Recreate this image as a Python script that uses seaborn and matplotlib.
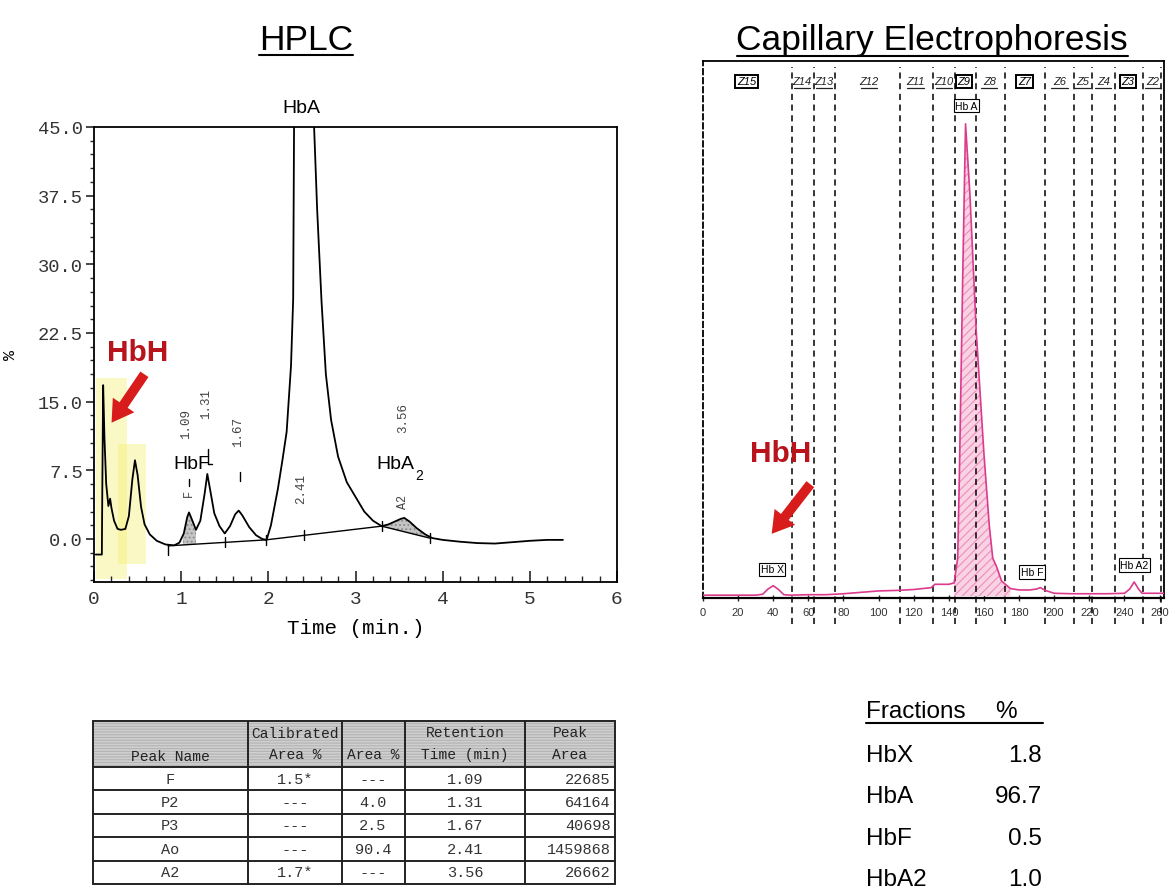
import numpy as np
import matplotlib
matplotlib.use("Agg")
import matplotlib.pyplot as plt
import seaborn as sns
from matplotlib.patches import Rectangle, FancyArrowPatch
from matplotlib.ticker import MultipleLocator, FixedLocator

# ---------------- HPLC chromatogram ----------------
hplc_time = [0.02, 0.09, 0.095, 0.105, 0.12, 0.14, 0.165, 0.185, 0.20, 0.23, 0.27, 0.31,
             0.36, 0.40, 0.44, 0.47, 0.50, 0.54, 0.58, 0.64, 0.72, 0.82, 0.92, 0.98,
             1.03, 1.07, 1.09, 1.12, 1.17, 1.22, 1.27, 1.30, 1.33, 1.38, 1.44, 1.50,
             1.56, 1.62, 1.66, 1.70, 1.78, 1.86, 1.93, 1.98, 2.03, 2.07, 2.11, 2.16,
             2.21, 2.26, 2.285, 2.295, 2.41, 2.525, 2.56, 2.61, 2.66, 2.72, 2.80, 2.90,
             3.00, 3.10, 3.20, 3.30, 3.38, 3.45, 3.52, 3.56, 3.62, 3.70, 3.80, 3.88,
             4.00, 4.20, 4.40, 4.60, 4.80, 5.00, 5.20, 5.38]
hplc_signal = [-1.7, -1.7, 5.0, 16.8, 11.0, 6.0, 3.6, 4.4, 3.4, 2.0, 1.1, 1.0,
               1.1, 2.5, 6.5, 8.6, 7.0, 3.5, 1.6, 0.5, -0.2, -0.6, -0.7, -0.4,
               0.6, 2.4, 2.9, 2.2, 1.0, 2.0, 5.0, 7.1, 5.5, 2.8, 1.4, 0.6,
               1.4, 2.7, 3.1, 2.6, 1.3, 0.4, 0.0, -0.1, 1.5, 3.5, 5.5, 8.5,
               11.7, 18.9, 26.2, 45.0, 72.0, 45.0, 36.0, 26.0, 18.0, 13.0, 9.0, 6.2,
               4.6, 3.0, 2.0, 1.4, 1.6, 1.9, 2.2, 2.3, 1.9, 1.2, 0.5, 0.1,
               -0.1, -0.3, -0.45, -0.5, -0.35, -0.2, -0.1, -0.1]

# integration baseline and peak start/end marks
base_time = [0.85, 1.97, 3.30, 3.85]
base_signal = [-0.75, -0.10, 1.40, 0.10]
mark_time = [0.85, 1.50, 1.97, 2.41, 3.30, 3.85]

# retention-time labels printed above the peaks
rt_text = ["1.09", "1.31", "1.67", "2.41", "3.56"]
rt_time = [1.06, 1.29, 1.655, 2.38, 3.55]
rt_level = [12.7, 14.9, 11.8, 5.6, 13.3]

# HPLC report table
peak_names = ["F", "P2", "P3", "Ao", "A2"]
calibrated_area = ["1.5*", "---", "---", "---", "1.7*"]
area_pct = ["---", "4.0", "2.5", "90.4", "---"]
retention_time = ["1.09", "1.31", "1.67", "2.41", "3.56"]
peak_area = ["22685", "64164", "40698", "1459868", "26662"]

# ---------------- Capillary electrophoresis ----------------
ce_pos = [0, 20, 30, 34, 37, 40, 43, 46, 50, 60, 70, 80, 90, 100, 110, 120, 130, 132,
          140, 143, 145, 146, 147, 148, 149.5, 152, 155.6, 160, 163, 165, 167, 170,
          175, 180, 186, 190, 192, 195, 200, 210, 220, 230, 240, 243, 245.5, 248, 250, 262.5]
ce_signal = [0.2, 0.2, 0.2, 0.4, 1.5, 2.2, 1.4, 0.3, 0.2, 0.3, 0.3, 0.5, 0.8, 1.1, 1.2, 1.4, 1.8, 2.5,
             2.5, 2.8, 8.0, 26.0, 48.0, 70.0, 100.0, 85.0, 56.0, 30.0, 15.0, 8.0, 6.4, 3.2,
             1.6, 1.3, 1.3, 1.5, 1.8, 1.2, 0.6, 0.5, 0.5, 0.5, 0.6, 1.5, 3.0, 1.5, 0.6, 0.6]

zone_bounds = [50.5, 63, 75, 112, 131, 143.3, 155.6, 172, 194.5, 211, 221.5, 234.5, 250.6, 261]
zone_names = ["Z15", "Z14", "Z13", "Z12", "Z11", "Z10", "Z9", "Z8", "Z7", "Z6", "Z5", "Z4", "Z3", "Z2"]
zone_pos = [24.7, 56.5, 69, 94.7, 121, 137, 148.5, 163, 183, 203, 216, 228, 242, 256]
zone_boxed = ["Z15", "Z9", "Z7", "Z3"]

hb_labels = ["Hb X", "Hb A", "Hb F", "Hb A2"]
hb_label_pos = [39.5, 150, 187.5, 245.6]
hb_label_level = [5.7, 103.8, 5.1, 6.6]

fractions = ["HbX", "HbA", "HbF", "HbA2"]
fraction_pct = [1.8, 96.7, 0.5, 1.0]

# ---------------- style ----------------
sns.set_style("white")
SANS = ["Liberation Sans", "DejaVu Sans"]
MONO = ["Liberation Mono", "DejaVu Sans Mono"]
plt.rcParams["font.family"] = SANS
plt.rcParams["text.color"] = "black"
plt.rcParams["hatch.linewidth"] = 0.8

W, H = 1173, 895
fig = plt.figure(figsize=(W / 100, H / 100), dpi=100, facecolor="white")


def box(left, top, right, bottom):
    return [left / W, 1 - bottom / H, (right - left) / W, (bottom - top) / H]


# ---------------- HPLC panel ----------------
ax1 = fig.add_axes(box(94, 128, 617, 583))
ax1.set_xlim(0, 6)
ax1.set_ylim(-4.7, 45)

# highlighter marks behind the early peaks
ax1.add_patch(Rectangle((0.02, -4.4), 0.36, 22.0, fc="#f4ef6e", ec="none", alpha=0.4, zorder=0))
ax1.add_patch(Rectangle((0.28, -2.7), 0.32, 13.1, fc="#f4ef6e", ec="none", alpha=0.4, zorder=0))

sns.lineplot(x=hplc_time, y=hplc_signal, ax=ax1, color="black", lw=1.3,
             sort=False, estimator=None, zorder=3)

t_arr = np.array(hplc_time)
s_arr = np.array(hplc_signal)
sns.lineplot(x=base_time, y=base_signal, ax=ax1, color="black", lw=1.0,
             sort=False, estimator=None, zorder=3)

# shaded integrated areas (F and A2)
for lo, hi in [(1.02, 1.17), (3.30, 3.85)]:
    tt = np.linspace(lo, hi, 60)
    top = np.interp(tt, t_arr, s_arr)
    bot = np.interp(tt, base_time, base_signal)
    ax1.fill_between(tt, bot, np.maximum(top, bot), facecolor="#c4c4c4",
                     edgecolor="#8a8a8a", hatch="....", lw=0, zorder=2)

# peak boundary marks
for tm in mark_time:
    b = np.interp(tm, base_time, base_signal)
    if tm == 0.85:
        b -= 0.5
    ax1.plot([tm, tm], [b - 0.55, b + 0.55], color="black", lw=1.0, zorder=3)
# apex marks
for tm, lo, hi in [(1.09, 5.8, 6.6), (1.31, 8.2, 9.8), (1.67, 6.3, 7.3)]:
    ax1.plot([tm, tm], [lo, hi], color="black", lw=1.0, zorder=3)
ax1.plot([1.31, 1.35], [8.2, 8.2], color="black", lw=1.0, zorder=3)

for txt, tm, lv in zip(rt_text, rt_time, rt_level):
    ax1.text(tm, lv, txt, rotation=90, ha="center", va="center", fontsize=9,
             family=MONO, color="#444444")
ax1.text(1.09, 5.1, "F", rotation=90, ha="center", va="center", fontsize=8.5,
         family=MONO, color="#444444")
ax1.text(3.55, 4.2, "A2", rotation=90, ha="center", va="center", fontsize=8.5,
         family=MONO, color="#444444")

ax1.text(2.38, 46.2, "HbA", ha="center", va="bottom", fontsize=14, clip_on=False)
ax1.text(1.12, 8.2, "HbF", ha="center", va="center", fontsize=14)
ax1.text(3.68, 8.2, "HbA", ha="right", va="center", fontsize=14)
ax1.text(3.682, 7.0, "2", ha="left", va="center", fontsize=10)

for side in ["left", "right", "top", "bottom"]:
    ax1.spines[side].set_visible(True)
    ax1.spines[side].set_color("black")
    ax1.spines[side].set_linewidth(1.3)

ax1.xaxis.set_major_locator(MultipleLocator(1))
ax1.xaxis.set_minor_locator(MultipleLocator(0.2))
ax1.yaxis.set_major_locator(FixedLocator([0, 7.5, 15, 22.5, 30, 37.5, 45]))
ax1.yaxis.set_minor_locator(MultipleLocator(1.5))
ax1.tick_params(axis="x", which="major", direction="in", length=8, width=1.2, pad=6,
                bottom=True, labelsize=14)
ax1.tick_params(axis="x", which="minor", direction="in", length=4, width=1.0, bottom=True)
ax1.tick_params(axis="y", which="major", direction="out", length=6, width=1.2, pad=2,
                left=True, labelsize=13.5)
ax1.tick_params(axis="y", which="minor", direction="out", length=3, width=1.0, left=True)
ax1.set_yticklabels([f"{v:.1f}" for v in [0, 7.5, 15, 22.5, 30, 37.5, 45]])
for lab in ax1.get_xticklabels() + ax1.get_yticklabels():
    lab.set_family(MONO)
    lab.set_color("#333333")
ax1.set_xlabel("Time (min.)", family=MONO, fontsize=15, labelpad=8, color="black")
ax1.set_ylabel("%", family=MONO, fontsize=12, color="black")
ax1.yaxis.set_label_coords(-0.145, 0.5)

# ---------------- CE panel ----------------
ax2 = fig.add_axes(box(703, 62, 1164, 599))
ax2.set_xlim(0, 262.5)
ax2.set_ylim(-0.4, 113.3)

ce_x = np.array(ce_pos)
ce_y = np.array(ce_signal)
sel = (ce_x >= 143) & (ce_x <= 176)
ax2.fill_between(ce_x[sel], 0, ce_y[sel], facecolor="#f9d2e4", edgecolor="#ec8dbb",
                 hatch="////", lw=0, zorder=1)
sns.lineplot(x=ce_pos, y=ce_signal, ax=ax2, color="#dc3a8c", lw=1.2,
             sort=False, estimator=None, zorder=3)

ax2.vlines(zone_bounds, -6, 112, colors="black", linestyles=(0, (4, 3)), lw=1.1,
           clip_on=False, zorder=2)

for name, pos in zip(zone_names, zone_pos):
    if name in zone_boxed:
        ax2.text(pos, 109, name, ha="center", va="center", fontsize=8, style="italic",
                 zorder=4,
                 bbox=dict(boxstyle="square,pad=0.15", fc="white", ec="black", lw=1.4))
    else:
        ax2.text(pos, 109, name, ha="center", va="center", fontsize=8, style="italic",
                 color="#222222", zorder=4)
        ax2.plot([pos - 4.6, pos + 4.6], [107.5, 107.5], color="#222222", lw=0.9, zorder=4)

for lab, pos, lv in zip(hb_labels, hb_label_pos, hb_label_level):
    ax2.text(pos, lv, lab, ha="center", va="center", fontsize=7.5, zorder=4,
             bbox=dict(boxstyle="square,pad=0.15", fc="white", ec="black", lw=0.8))

ax2.spines["left"].set_linestyle((0, (3, 2)))
for side in ["left", "right", "top", "bottom"]:
    ax2.spines[side].set_visible(True)
    ax2.spines[side].set_color("black")
    ax2.spines[side].set_linewidth(1.3)
ax2.spines["bottom"].set_linewidth(1.6)
ax2.set_yticks([])
ax2.tick_params(axis="x", which="major", direction="inout", length=5, width=1.0, pad=4,
                bottom=True, labelsize=8, labelcolor="#333333")
ax2.set_xticks(range(0, 261, 20))

# ---------------- overlay: titles, tables, callouts ----------------
ov = fig.add_axes([0, 0, 1, 1], facecolor="none")
ov.set_xlim(0, W)
ov.set_ylim(H, 0)
ov.axis("off")

ov.text(306, 50, "HPLC", ha="center", va="baseline", fontsize=25.5)
ov.plot([259, 353], [56, 56], color="black", lw=1.5)
ov.text(932, 50, "Capillary Electrophoresis", ha="center", va="baseline", fontsize=25.5)
ov.plot([737, 1128], [57, 57], color="black", lw=1.5)

RED_TXT = "#b8141c"
RED_ARW = "#d81b1b"
for (tx, ty), (a0, a1) in [((138, 353), ((146, 373), (110, 426))),
                            ((781, 454), ((812, 483), (770, 537)))]:
    ov.text(tx, ty, "HbH", ha="center", va="center", fontsize=21.5, weight="bold", color=RED_TXT)
    ov.add_patch(FancyArrowPatch(a0, a1, arrowstyle="simple,head_length=0.7,head_width=0.85,tail_width=0.32",
                                 mutation_scale=22, color=RED_ARW, lw=0))

# HPLC report table
cols = [93, 248, 342, 405, 525, 615]
rows = [722, 768, 791.4, 814.8, 838.2, 861.6, 885]
ov.add_patch(Rectangle((cols[0], rows[0]), cols[-1] - cols[0], rows[1] - rows[0],
                       fc="#cfcfcf", ec="#b3b3b3", hatch="------", lw=0))
for x in cols:
    ov.plot([x, x], [rows[0], rows[-1]], color="#222222", lw=1.4)
for y in rows:
    ov.plot([cols[0], cols[-1]], [y, y], color="#222222", lw=1.4)

hdr_kw = dict(ha="center", va="center", fontsize=10.5, family=MONO, color="#222222")
ov.text(170, 757, "Peak Name", **hdr_kw)
ov.text(295, 734, "Calibrated", **hdr_kw)
ov.text(295, 755, "Area %", **hdr_kw)
ov.text(373, 755, "Area %", **hdr_kw)
ov.text(465, 733, "Retention", **hdr_kw)
ov.text(465, 755, "Time (min)", **hdr_kw)
ov.text(570, 733, "Peak", **hdr_kw)
ov.text(570, 755, "Area", **hdr_kw)

cell_kw = dict(va="center", fontsize=11, family=MONO, color="#333333")
for i in range(len(peak_names)):
    yc = (rows[i + 1] + rows[i + 2]) / 2
    ov.text(170, yc, peak_names[i], ha="center", **cell_kw)
    ov.text(295, yc, calibrated_area[i], ha="center", **cell_kw)
    ov.text(373, yc, area_pct[i], ha="center", **cell_kw)
    ov.text(465, yc, retention_time[i], ha="center", **cell_kw)
    ov.text(611, yc, peak_area[i], ha="right", **cell_kw)

# CE fraction summary
ov.text(866, 718, "Fractions", ha="left", va="baseline", fontsize=17.5)
ov.text(995, 718, "%", ha="left", va="baseline", fontsize=17.5)
ov.plot([866, 1043], [724, 724], color="black", lw=1.5)
for i, (fr, pct) in enumerate(zip(fractions, fraction_pct)):
    yb = 762 + i * 41.3
    ov.text(866, yb, fr, ha="left", va="baseline", fontsize=17.5)
    ov.text(1042, yb, f"{pct:.1f}", ha="right", va="baseline", fontsize=17.5)

fig.savefig("out.png", dpi=100, facecolor="white")
